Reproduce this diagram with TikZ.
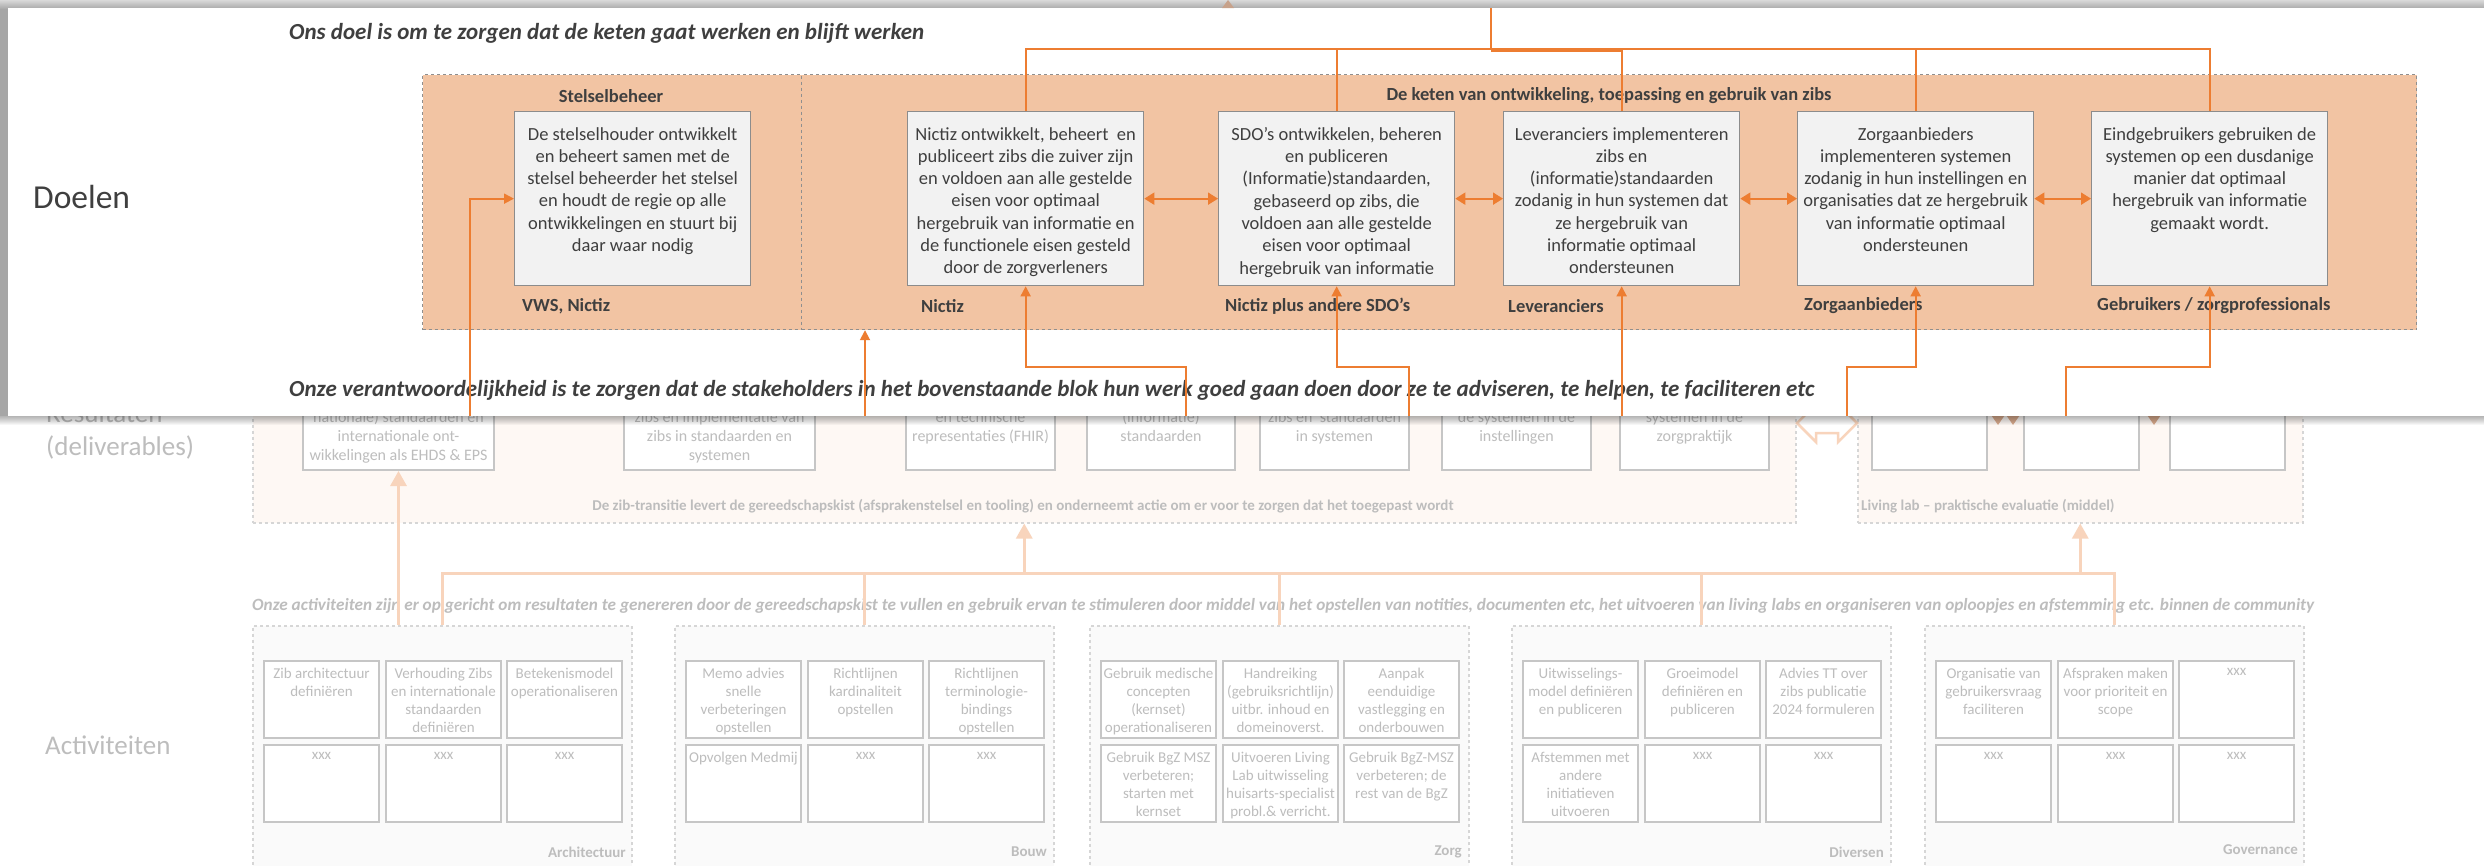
\documentclass[tikz,border=0pt]{standalone}
\usepackage{fontspec}
\setmainfont{Carlito}
\usetikzlibrary{arrows.meta}
\definecolor{peach}{HTML}{F2C4A3}
\definecolor{orng}{HTML}{ED7D31}
\definecolor{dtext}{HTML}{3F3F3F}
\definecolor{boxgray}{HTML}{F2F2F2}
\definecolor{boxline}{HTML}{8C8C8C}
\definecolor{dashgray}{HTML}{8F8F8F}
\definecolor{ftext}{HTML}{BDBDBD}
\definecolor{fline}{HTML}{C6C6C6}
\definecolor{fpeach}{HTML}{F8D4BC}
\definecolor{fpeachbg}{HTML}{FEF8F4}
\definecolor{fgraybg}{HTML}{FAFAFA}
\definecolor{fdash}{HTML}{D6D6D6}
\definecolor{framegray}{HTML}{A6A6A6}
\definecolor{ftri}{HTML}{D9AB8E}
\newcommand{\myfs}[2]{\fontsize{#1}{#2}\selectfont}
\tikzset{
 pcont/.style={draw=dashgray, dashed, line width=1.2pt, fill=peach, inner sep=0pt, anchor=north west},
 pbox/.style={draw=boxline, fill=boxgray, line width=1.3pt, minimum width=236pt, minimum height=174pt, inner sep=0pt, anchor=north west},
 ptext/.style={text=dtext, font=\myfs{18.5}{22.3}, align=center, inner sep=0pt, anchor=north},
 plabel/.style={text=dtext, font=\myfs{18.5}{22}\bfseries, inner sep=0pt},
 oline/.style={draw=orng, line width=1.8pt},
 oarrow/.style={oline, -{Triangle[width=10pt,length=10pt]}},
 odarrow/.style={oline, {Triangle[width=12pt,length=10pt]}-{Triangle[width=12pt,length=10pt]}},
 headline/.style={text=dtext, font=\myfs{23}{26}\bfseries\itshape, inner sep=0pt, anchor=west},
 rcont/.style={draw=fdash, dashed, line width=1.5pt, fill=fpeachbg, inner sep=0pt, anchor=north west},
 rbox/.style={draw=fline, fill=white, line width=2pt, inner sep=0pt, anchor=north west, minimum height=129pt},
 rtext/.style={text=ftext, font=\myfs{16}{19}, align=center, inner sep=0pt, anchor=north},
 acont/.style={draw=fdash, dashed, line width=1.5pt, fill=fgraybg, inner sep=0pt, anchor=north west, minimum width=379pt, minimum height=260pt},
 abox/.style={draw=fline, fill=white, line width=2pt, minimum width=115pt, minimum height=77pt, inner sep=0pt, anchor=north west},
 atext/.style={text=ftext, font=\myfs{15}{18}, align=center, inner sep=0pt, anchor=north},
 flabel/.style={text=ftext, font=\myfs{15}{18}\bfseries, inner sep=0pt},
 sidelabel/.style={text=ftext, font=\myfs{27}{33}, inner sep=0pt, align=left, anchor=west},
 fconn/.style={draw=fpeach, line width=3pt},
 farrow/.style={fconn, -{Triangle[width=16pt,length=15pt]}},
}
\newcommand{\actbox}[4]{%
 \node[abox] (#1) at (#2,#3) {};
 \node[atext] at ([yshift=-8pt]#1.north) {#4};
}
\begin{document}
\begin{tikzpicture}[x=1pt,y=-1pt]
\useasboundingbox (0,0) rectangle (2484,865);
\fill[white] (0,0) rectangle (2484,865);

% ================= background (faded) =================
\node[sidelabel] (reslab) at (46,431) {Resultaten\\(deliverables)};
\node[sidelabel] (actlab) at (45,745) {Activiteiten};

\node[rcont, minimum width=1543pt, minimum height=192pt] (resc) at (252,330) {};
\node[rcont, minimum width=445pt, minimum height=192pt] (labc) at (1857,330) {};
\node[text=ftext, font=\myfs{15}{18}\bfseries, inner sep=0pt] (resctext) at (1023,506) {De zib-transitie levert de gereedschapskist (afsprakenstelsel en tooling) en onderneemt actie om er voor te zorgen dat het toegepast wordt};
\node[text=ftext, font=\myfs{15}{18}\bfseries, inner sep=0pt, anchor=west] (labctext) at (1861,506) {Living lab – praktische evaluatie (middel)};

\node[rbox, minimum width=191pt] (r1) at (302,340) {};
\node[rbox, minimum width=191pt] (r2) at (623,340) {};
\node[rbox, minimum width=149pt] (r3) at (905,340) {};
\node[rbox, minimum width=148pt] (r4) at (1086,340) {};
\node[rbox, minimum width=149pt] (r5) at (1259,340) {};
\node[rbox, minimum width=149pt] (r6) at (1441,340) {};
\node[rbox, minimum width=149pt] (r7) at (1619,340) {};
\node[rbox, minimum width=115pt] (l1) at (1871,340) {};
\node[rbox, minimum width=115pt] (l2) at (2023,340) {};
\node[rbox, minimum width=115pt] (l3) at (2169,340) {};
\node[rtext] at (r1.north |- 0,411) {nationale) standaarden en\\internationale ont-\\wikkelingen als EHDS \& EPS};
\node[rtext] at (r2.north |- 0,411) {zibs en implementatie van\\zibs in standaarden en\\systemen};
\node[rtext] at (r3.north |- 0,411) {en technische\\representaties (FHIR)};
\node[rtext] at (r4.north |- 0,411) {(informatie)\\standaarden};
\node[rtext] at (r5.north |- 0,411) {zibs en\ \ standaarden\\in systemen};
\node[rtext] at (r6.north |- 0,411) {de systemen in de\\instellingen};
\node[rtext] at (r7.north |- 0,411) {systemen in de\\zorgpraktijk};

\draw[fpeach, line width=2.5pt, fill=white, line join=miter]
 (1797,423) -- (1816,404) -- (1816,413) -- (1838,413) -- (1838,404) -- (1857,423)
 -- (1838,442) -- (1838,433) -- (1816,433) -- (1816,442) -- cycle;
\fill[ftri] (1989,412) -- (2007,412) -- (1998,425) -- cycle;
\fill[ftri] (2004,412) -- (2022,412) -- (2013,425) -- cycle;
\fill[ftri] (2145,412) -- (2163,412) -- (2154,425) -- cycle;

\node[text=ftext, font=\myfs{17.2}{20}\bfseries\itshape, inner sep=0pt, anchor=west] (acttext) at (252,606) {Onze activiteiten zijn er op gericht om resultaten te genereren door de gereedschapskist te vullen en gebruik ervan te stimuleren door middel van het opstellen van notities, documenten etc, het uitvoeren van living labs en organiseren van oploopjes en afstemming etc. binnen de community};

\node[acont] (archc) at (252,625) {};
\node[acont] (bouwc) at (674,625) {};
\node[acont] (zorgc) at (1089,625) {};
\node[acont] (divc) at (1511,625) {};
\node[acont] (govc) at (1924,625) {};
\node[flabel, anchor=east] at (626,852) {Architectuur};
\node[flabel, anchor=east] at (1047,852) {Bouw};
\node[flabel, anchor=east] at (1462,852) {Zorg};
\node[flabel, anchor=east] at (1884,852) {Diversen};
\node[flabel, anchor=east] at (2298,850) {Governance};

\actbox{a11}{263}{660}{Zib architectuur\\definiëren}
\actbox{a12}{385}{660}{Verhouding Zibs\\en internationale\\standaarden\\definiëren}
\actbox{a13}{506}{660}{Betekenismodel\\operationaliseren}
\actbox{a21}{263}{744}{xxx}
\actbox{a22}{385}{744}{xxx}
\actbox{a23}{506}{744}{xxx}

\actbox{b11}{685}{660}{Memo advies\\snelle\\verbeteringen\\opstellen}
\actbox{b12}{807}{660}{Richtlijnen\\kardinaliteit\\opstellen}
\actbox{b13}{928}{660}{Richtlijnen\\terminologie-\\bindings\\opstellen}
\actbox{b21}{685}{744}{Opvolgen Medmij}
\actbox{b22}{807}{744}{xxx}
\actbox{b23}{928}{744}{xxx}

\actbox{z11}{1100}{660}{Gebruik medische\\concepten\\(kernset)\\operationaliseren}
\actbox{z12}{1222}{660}{Handreiking\\(gebruiksrichtlijn)\\uitbr. inhoud en\\domeinoverst.}
\actbox{z13}{1343}{660}{Aanpak\\eenduidige\\vastlegging en\\onderbouwen}
\actbox{z21}{1100}{744}{Gebruik BgZ MSZ\\verbeteren;\\starten met\\kernset}
\actbox{z22}{1222}{744}{Uitvoeren Living\\Lab uitwisseling\\huisarts-specialist\\probl.\& verricht.}
\actbox{z23}{1343}{744}{Gebruik BgZ-MSZ\\verbeteren; de\\rest van de BgZ}

\actbox{d11}{1522}{660}{Uitwisselings-\\model definiëren\\en publiceren}
\actbox{d12}{1644}{660}{Groeimodel\\definiëren en\\publiceren}
\actbox{d13}{1765}{660}{Advies TT over\\zibs publicatie\\2024 formuleren}
\actbox{d21}{1522}{744}{Afstemmen met\\andere\\initiatieven\\uitvoeren}
\actbox{d22}{1644}{744}{xxx}
\actbox{d23}{1765}{744}{xxx}

\actbox{g11}{1935}{660}{Organisatie van\\gebruikersvraag\\faciliteren}
\actbox{g12}{2057}{660}{Afspraken maken\\voor prioriteit en\\scope}
\actbox{g13}{2178}{660}{xxx}
\actbox{g21}{1935}{744}{xxx}
\actbox{g22}{2057}{744}{xxx}
\actbox{g23}{2178}{744}{xxx}

\coordinate (abus) at (0,573);
\draw[fconn] (archc.north) |- (abus -| govc.north) -- (govc.north);
\draw[fconn] (bouwc.north) -- (bouwc.north |- abus);
\draw[fconn] (zorgc.north) -- (zorgc.north |- abus);
\draw[fconn] (divc.north) -- (divc.north |- abus);
\draw[farrow] (archc.north -| r1.south) -- (r1.south);
\draw[farrow] (resc.south |- abus) -- (resc.south);
\draw[farrow] (labc.south |- abus) -- (labc.south);

% ================= overlay panel =================
\fill[framegray] (0,0) rectangle (2484,416);
\shade[top color=gray!30, bottom color=gray!65] (0,0) rectangle (2484,8);
\fill[white] (8,8) rectangle (2484,416);
\foreach \k in {1,...,9} {\fill[black, opacity=0.035] (0,416) rectangle (2484,{416+\k});}
\fill[ftri!80!gray] (1222,8) -- (1234,8) -- (1228,0) -- cycle;

\node[sidelabel, text=dtext, font=\myfs{33.5}{40}] (doelen) at (33,197) {Doelen};
\node[headline] (doel) at (289,33) {Ons doel is om te zorgen dat de keten gaat werken en blijft werken};
\node[headline] (verantw) at (289,390) {Onze verantwoordelijkheid is te zorgen dat de stakeholders in het bovenstaande blok hun werk goed gaan doen door ze te adviseren, te helpen, te faciliteren etc};

\node[pcont, minimum width=379pt, minimum height=255pt] (stelc) at (422,74) {};
\node[pcont, minimum width=1615pt, minimum height=255pt] (ketc) at (801,74) {};
\node[plabel] at (611,96) {Stelselbeheer};
\node[plabel] at (1609,96) {De keten van ontwikkeling, toepassing en gebruik van zibs};

\node[pbox] (stelsel) at (514,111) {};
\node[pbox] (nictiz) at (907,111) {};
\node[pbox] (sdo) at (1218,111) {};
\node[pbox] (lev) at (1503,111) {};
\node[pbox] (zorg) at (1797,111) {};
\node[pbox] (eind) at (2091,111) {};

\node[ptext] at ([yshift=-16pt]stelsel.north) {De stelselhouder ontwikkelt\\en beheert samen met de\\stelsel beheerder het stelsel\\en houdt de regie op alle\\ontwikkelingen en stuurt bij\\daar waar nodig};
\node[ptext] at ([yshift=-16pt]nictiz.north) {Nictiz ontwikkelt, beheert\ \ en\\publiceert zibs die zuiver zijn\\en voldoen aan alle gestelde\\eisen voor optimaal\\hergebruik van informatie en\\de functionele eisen gesteld\\door de zorgverleners};
\node[ptext] at ([yshift=-16pt]sdo.north) {SDO’s ontwikkelen, beheren\\en publiceren\\(Informatie)standaarden,\\gebaseerd op zibs, die\\voldoen aan alle gestelde\\eisen voor optimaal\\hergebruik van informatie};
\node[ptext] at ([yshift=-16pt]lev.north) {Leveranciers implementeren\\zibs en\\(informatie)standaarden\\zodanig in hun systemen dat\\ze hergebruik van\\informatie optimaal\\ondersteunen};
\node[ptext] at ([yshift=-16pt]zorg.north) {Zorgaanbieders\\implementeren systemen\\zodanig in hun instellingen en\\organisaties dat ze hergebruik\\van informatie optimaal\\ondersteunen};
\node[ptext] at ([yshift=-16pt]eind.north) {Eindgebruikers gebruiken de\\systemen op een dusdanige\\manier dat optimaal\\hergebruik van informatie\\gemaakt wordt.};

\node[plabel, anchor=west] at (522,306) {VWS, Nictiz};
\node[plabel, anchor=west] at (921,306) {Nictiz};
\node[plabel, anchor=west] at (1225,306) {Nictiz plus andere SDO’s};
\node[plabel, anchor=west] at (1508,306) {Leveranciers};
\node[plabel, anchor=west] at (1804,306) {Zorgaanbieders};
\node[plabel, anchor=west] at (2097,306) {Gebruikers / zorgprofessionals};

\draw[odarrow] (nictiz.east) -- (sdo.west);
\draw[odarrow] (sdo.east) -- (lev.west);
\draw[odarrow] (lev.east) -- (zorg.west);
\draw[odarrow] (zorg.east) -- (eind.west);

\coordinate (tbus) at (0,49);
\coordinate (texit) at (1491,8);
\draw[oline] (nictiz.north) |- (tbus -| eind.north) -- (eind.north);
\draw[oline] (sdo.north) -- (sdo.north |- tbus);
\draw[oline] (lev.north) -- (lev.north |- tbus);
\draw[oline] (zorg.north) -- (zorg.north |- tbus);
\draw[oline] (texit) -- (texit |- tbus);
\draw[orng, line width=3pt] (texit |- 0,50) -- (lev.north |- 0,50);

\coordinate (bbus) at (0,367);
\coordinate (stb) at (470,416);
\coordinate (kb) at (865,416);
\coordinate (nb) at (1186,416);
\coordinate (sb) at (1409,416);
\coordinate (zb) at (1847,416);
\coordinate (eb) at (2066,416);
\draw[oarrow] (stb) |- (stelsel.west);
\draw[oarrow] (kb) -- (kb |- ketc.south);
\draw[oarrow] (nb) |- (bbus -| nictiz.south) -- (nictiz.south);
\draw[oarrow] (sb) |- (bbus -| sdo.south) -- (sdo.south);
\draw[oarrow] (lev.south |- nb) -- (lev.south);
\draw[oarrow] (zb) |- (bbus -| zorg.south) -- (zorg.south);
\draw[oarrow] (eb) |- (bbus -| eind.south) -- (eind.south);
\end{tikzpicture}
\end{document}
